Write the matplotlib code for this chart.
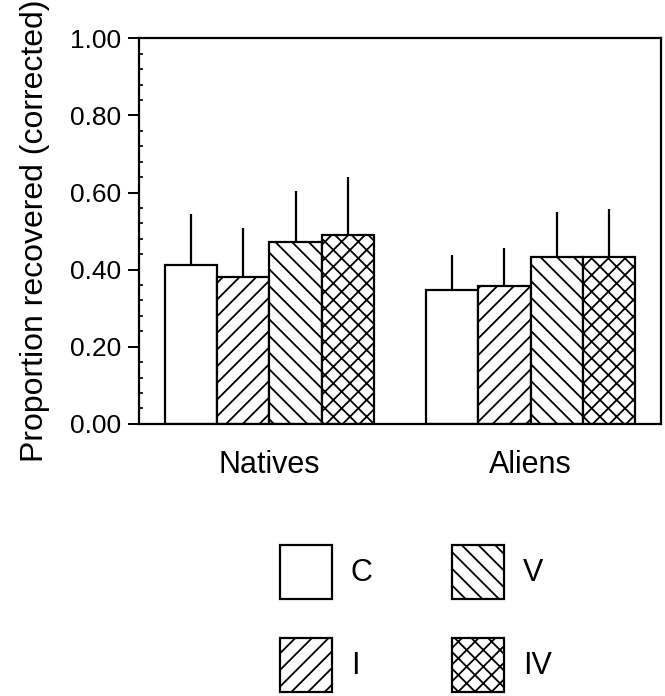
import matplotlib
matplotlib.use("Agg")
import matplotlib.pyplot as plt
import numpy as np

# values
groups = ["Natives", "Aliens"]
treatments = ["C", "I", "V", "IV"]
hatches = ["", "//", "\\\\", "xx"]

natives_mean = [0.412, 0.382, 0.471, 0.489]
natives_err = [0.133, 0.126, 0.133, 0.151]
aliens_mean = [0.346, 0.358, 0.433, 0.433]
aliens_err = [0.091, 0.097, 0.117, 0.123]

plt.rcParams["font.family"] = ["Liberation Sans", "DejaVu Sans"]
plt.rcParams["hatch.linewidth"] = 1.3

fig = plt.figure(figsize=(6.65, 6.96), dpi=100)
ax = fig.add_axes([0.209, 0.391, 0.785, 0.554])

means = np.array([natives_mean, aliens_mean])
errs = np.array([natives_err, aliens_err])
x = np.arange(len(groups))
width = 0.2

handles = []
for i, name in enumerate(treatments):
    pos = x + (i - 1.5) * width
    bars = ax.bar(pos, means[:, i], width, color="white", edgecolor="black",
                  linewidth=1.6, hatch=hatches[i], label=name, zorder=2)
    ax.errorbar(pos, means[:, i], yerr=[np.zeros(len(groups)), errs[:, i]],
                fmt="none", ecolor="black", elinewidth=1.6, capsize=0, zorder=3)
    handles.append(bars)

ax.set_xlim(-0.5, 1.5)
ax.set_ylim(0, 1.0)
ax.set_yticks(np.arange(0, 1.01, 0.2))
ax.set_yticks(np.arange(0, 1.001, 0.04), minor=True)
ax.set_yticklabels([f"{v:.2f}" for v in np.arange(0, 1.01, 0.2)])
ax.tick_params(axis="y", which="major", direction="out", length=8, width=1.4,
               pad=5, labelsize=19)
ax.tick_params(axis="y", which="minor", direction="in", length=3, width=1.2)
ax.set_xticks(x)
ax.set_xticklabels(groups)
ax.tick_params(axis="x", length=0, pad=19, labelsize=22)

for sp in ax.spines.values():
    sp.set_linewidth(1.6)

ax.set_ylabel("Proportion recovered (corrected)", fontsize=23, labelpad=14)

fig.legend(handles, treatments, loc="upper left",
           bbox_to_anchor=(280 / 665, 1 - 545 / 696), ncol=2, frameon=False,
           fontsize=22, handlelength=1.7, handleheight=2.34, labelspacing=1.27,
           columnspacing=2.6, handletextpad=0.62, borderpad=0, borderaxespad=0)

fig.savefig("out.png", dpi=100)
